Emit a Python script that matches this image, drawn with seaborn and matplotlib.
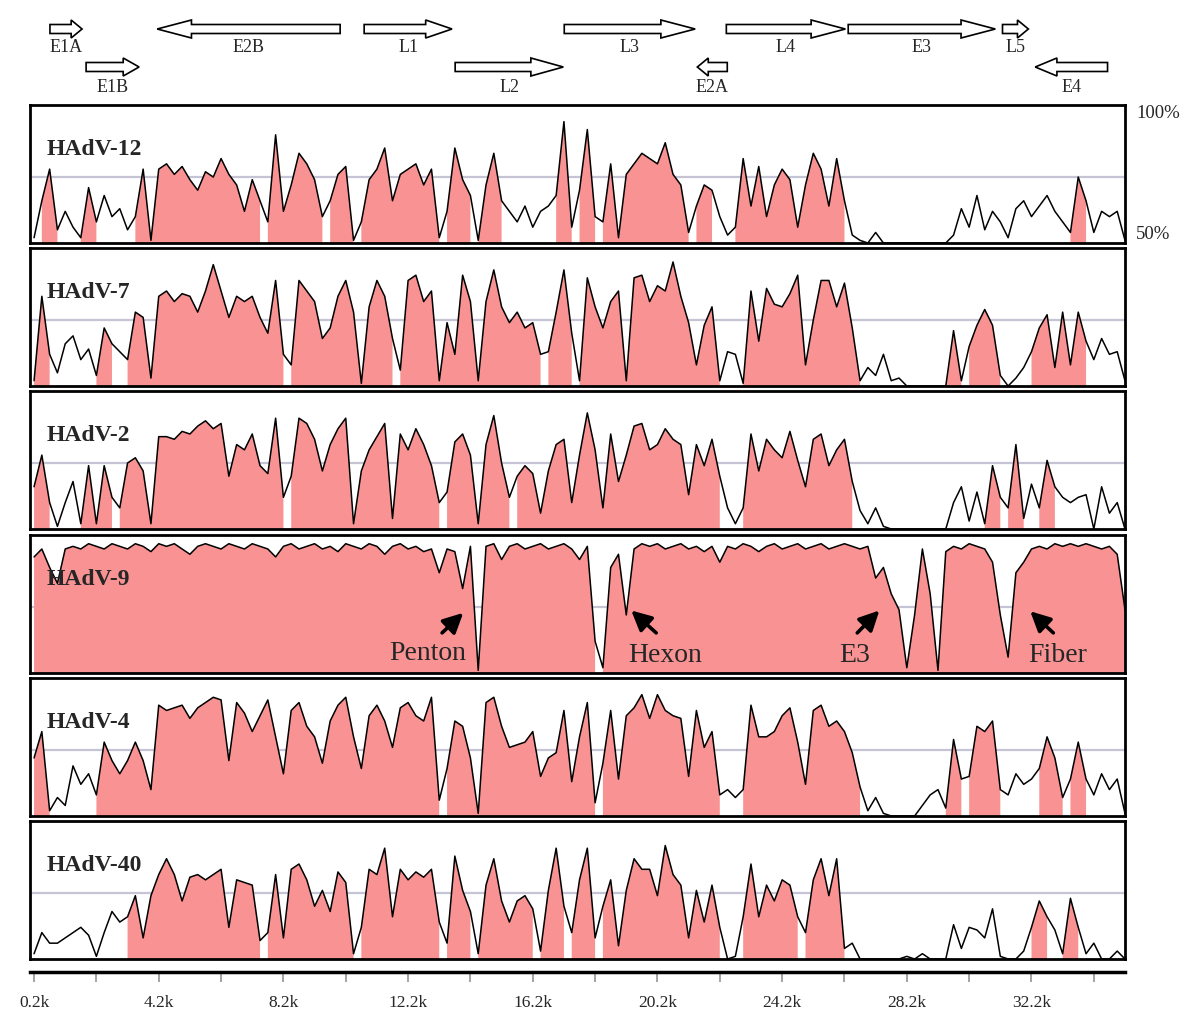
import numpy as np
import pandas as pd
import matplotlib.pyplot as plt
from matplotlib.patches import Polygon
import seaborn as sns

sns.set_theme(style="white")
plt.rcParams['font.family'] = ['Liberation Serif', 'DejaVu Serif']

# --- DATA (percent identity, 0.25 kb windows) ---
window_kb = np.round(np.arange(0.2, 35.21, 0.25), 2)

hadv12 = [52, 66, 78, 55, 62, 56, 52, 71, 58, 68,
          60, 63, 55, 60, 78, 51, 78, 80, 76, 79,
          74, 70, 77, 75, 82, 76, 72, 62, 74, 66,
          58, 91, 62, 72, 84, 80, 74, 60, 66, 76,
          79, 51, 58, 74, 78, 86, 66, 76, 78, 80,
          72, 78, 52, 62, 86, 74, 68, 51, 72, 84,
          66, 62, 58, 64, 56, 62, 64, 68, 96, 56,
          70, 93, 60, 58, 80, 52, 76, 80, 84, 82,
          80, 88, 76, 72, 54, 64, 72, 70, 60, 53,
          56, 82, 64, 79, 60, 72, 78, 74, 56, 72,
          84, 78, 64, 82, 66, 53, 51, 50, 54, 50,
          50, 50, 50, 50, 50, 50, 50, 50, 53, 63,
          56, 68, 55, 62, 58, 52, 63, 66, 60, 64,
          68, 62, 58, 54, 75, 66, 54, 62, 60, 62,
          51]

hadv7 = [52, 84, 62, 55, 66, 69, 60, 64, 54, 72,
         66, 63, 60, 78, 76, 53, 84, 86, 82, 85,
         84, 78, 86, 96, 86, 76, 84, 82, 84, 76,
         70, 90, 62, 58, 90, 86, 82, 68, 72, 84,
         90, 78, 51, 80, 90, 84, 68, 56, 90, 92,
         82, 86, 52, 74, 62, 92, 82, 52, 82, 94,
         80, 74, 78, 72, 74, 62, 63, 78, 94, 70,
         52, 91, 80, 72, 82, 86, 52, 91, 92, 82,
         88, 86, 97, 84, 74, 58, 73, 80, 52, 63,
         62, 51, 86, 67, 87, 81, 80, 85, 92, 58,
         75, 90, 90, 80, 89, 72, 52, 57, 54, 62,
         52, 53, 50, 50, 50, 50, 50, 50, 71, 52,
         65, 73, 79, 73, 54, 50, 53, 57, 63, 72,
         77, 57, 78, 58, 78, 67, 60, 68, 62, 63,
         52]

hadv2 = [66, 78, 60, 51, 60, 68, 52, 74, 52, 74,
         62, 58, 75, 77, 72, 52, 85, 85, 84, 87,
         86, 89, 91, 88, 90, 70, 82, 80, 86, 74,
         71, 92, 62, 70, 92, 90, 84, 72, 82, 88,
         92, 52, 72, 80, 85, 90, 54, 86, 80, 88,
         82, 74, 60, 64, 83, 86, 78, 52, 82, 93,
         75, 62, 70, 74, 71, 56, 72, 82, 84, 60,
         78, 94, 80, 58, 86, 68, 78, 89, 90, 80,
         82, 88, 84, 82, 63, 82, 74, 84, 70, 58,
         52, 58, 86, 72, 84, 80, 77, 87, 76, 66,
         84, 86, 74, 80, 84, 68, 57, 52, 58, 51,
         50, 50, 50, 50, 50, 50, 50, 50, 60, 66,
         53, 64, 52, 74, 62, 58, 82, 54, 67, 58,
         76, 66, 62, 60, 62, 63, 50, 66, 56, 60,
         50]

hadv9 = [94, 97, 90, 84, 97, 98, 97, 99, 98, 97,
         99, 98, 97, 99, 98, 96, 99, 98, 99, 97,
         95, 98, 99, 98, 97, 99, 98, 97, 99, 98,
         97, 94, 98, 99, 97, 98, 99, 97, 98, 96,
         99, 98, 97, 99, 98, 95, 98, 99, 97, 98,
         96, 97, 88, 97, 96, 82, 98, 51, 98, 99,
         93, 98, 99, 97, 98, 99, 97, 98, 99, 97,
         93, 98, 62, 52, 90, 95, 72, 97, 99, 98,
         99, 97, 98, 99, 97, 98, 96, 98, 92, 98,
         97, 99, 98, 96, 98, 99, 97, 98, 99, 97,
         98, 99, 97, 98, 99, 98, 97, 98, 86, 90,
         80, 74, 52, 72, 97, 80, 51, 96, 98, 97,
         99, 98, 97, 92, 72, 56, 88, 92, 97, 98,
         97, 99, 98, 99, 98, 99, 98, 97, 98, 95,
         74]

hadv4 = [72, 82, 52, 57, 54, 69, 62, 66, 58, 78,
         71, 66, 71, 78, 71, 60, 92, 90, 91, 92,
         87, 91, 93, 95, 94, 71, 93, 89, 82, 88,
         94, 80, 66, 90, 93, 84, 80, 70, 86, 92,
         95, 80, 68, 88, 92, 86, 76, 91, 93, 88,
         86, 95, 56, 68, 86, 84, 72, 51, 93, 95,
         84, 76, 77, 78, 82, 65, 72, 74, 90, 63,
         80, 93, 55, 70, 90, 64, 88, 91, 96, 87,
         96, 90, 88, 87, 65, 90, 76, 82, 58, 60,
         57, 60, 92, 80, 80, 82, 88, 91, 78, 62,
         90, 92, 84, 86, 82, 74, 61, 52, 57, 51,
         50, 50, 50, 50, 54, 58, 60, 53, 79, 64,
         65, 84, 82, 86, 60, 58, 66, 62, 64, 68,
         80, 72, 57, 64, 78, 64, 58, 66, 60, 64,
         51]

hadv40 = [52, 60, 56, 56, 58, 60, 62, 59, 51, 60,
          68, 64, 66, 74, 58, 74, 82, 88, 82, 72,
          81, 82, 80, 82, 84, 62, 80, 79, 78, 57,
          60, 82, 58, 84, 86, 80, 70, 76, 68, 83,
          79, 52, 62, 84, 82, 92, 66, 84, 80, 83,
          81, 84, 64, 56, 89, 76, 68, 52, 78, 88,
          72, 64, 72, 74, 69, 53, 76, 92, 70, 60,
          80, 92, 58, 70, 80, 55, 76, 88, 84, 84,
          74, 93, 82, 78, 58, 76, 64, 78, 62, 50,
          51, 66, 86, 66, 78, 72, 80, 78, 66, 60,
          80, 88, 74, 88, 54, 56, 50, 50, 50, 50,
          50, 50, 51, 50, 52, 50, 50, 50, 63, 54,
          62, 61, 58, 69, 51, 50, 50, 53, 62, 72,
          66, 61, 52, 73, 62, 52, 56, 50, 50, 53,
          50]

track_names = ['HAdV-12', 'HAdV-7', 'HAdV-2', 'HAdV-9', 'HAdV-4', 'HAdV-40']
track_values = [hadv12, hadv7, hadv2, hadv9, hadv4, hadv40]

gene_names = ['E1A', 'E1B', 'E2B', 'L1', 'L2', 'L3', 'E2A', 'L4', 'E3', 'L5', 'E4']
gene_start = [0.71, 1.87, 4.15, 10.79, 13.71, 17.21, 21.48, 22.41, 26.32, 31.27, 32.32]
gene_end = [1.74, 3.57, 10.02, 13.61, 17.18, 21.41, 22.44, 26.23, 31.04, 32.10, 34.64]
gene_strand = ['+', '+', '-', '+', '+', '+', '-', '+', '+', '+', '-']
gene_row = [0, 1, 0, 0, 1, 0, 1, 0, 0, 0, 1]

# callouts on the HAdV-9 track: arrow head, arrow tail, label centre
annot_labels = ['Penton', 'Hexon', 'E3', 'Fiber']
annot_head_kb = [13.97, 19.36, 27.32, 32.16]
annot_head_pct = [72.8, 73.7, 73.7, 73.4]
annot_tail_kb = [13.29, 20.16, 26.61, 32.90]
annot_tail_pct = [65.2, 65.2, 65.2, 65.2]
annot_text_kb = [12.84, 20.45, 26.52, 33.03]
annot_text_pct = [57.5, 56.8, 56.8, 56.8]

df = pd.DataFrame({'kb': window_kb})
for name, vals in zip(track_names, track_values):
    assert len(vals) == len(window_kb), name
    df[name] = vals
long_df = df.melt(id_vars='kb', var_name='virus', value_name='identity')

# --- LAYOUT ---
W, H = 1200, 1026
XLIM = (0.07, 35.2)
YLIM = (50, 102.3)
PINK = '#f99393'
MIDLINE = '#c4c4d4'
THRESH = 71


def px_rect(x0, y0, w, h):
    return [x0 / W, 1 - (y0 + h) / H, w / W, h / H]


def fill_conserved(ax, x, v):
    # a window segment is shaded when either end reaches the threshold
    hi = v >= THRESH
    seg = hi[:-1] | hi[1:]
    xs = np.repeat(x, 2)[1:-1]
    ys = np.repeat(v, 2)[1:-1]
    ws = np.repeat(seg, 2)
    ax.fill_between(xs, YLIM[0], ys, where=ws, color=PINK, lw=0, zorder=2)


fig = plt.figure(figsize=(12, 10.26), dpi=100)

panel_tops = [105, 248, 391, 535, 678, 821]
axes = []
for name, top in zip(track_names, panel_tops):
    ax = fig.add_axes(px_rect(30, top, 1095, 138))
    sub = long_df[long_df['virus'] == name]
    v = sub['identity'].to_numpy(float)
    ax.axhline(75, color=MIDLINE, lw=1.6, zorder=1)
    fill_conserved(ax, sub['kb'].to_numpy(), v)
    sns.lineplot(data=sub, x='kb', y='identity', ax=ax, color='black', lw=1.1, zorder=3)
    ax.set_xlim(XLIM)
    ax.set_ylim(YLIM)
    ax.set_xticks([])
    ax.set_yticks([])
    ax.set_xlabel('')
    ax.set_ylabel('')
    for s in ax.spines.values():
        s.set_visible(True)
        s.set_color('black')
        s.set_linewidth(2)
    ax.text(0.0155, 0.68, name, transform=ax.transAxes, fontsize=17,
            fontweight='bold', ha='left', va='center', zorder=5)
    axes.append(ax)

axes[0].text(1.01, 0.935, '100%', transform=axes[0].transAxes, fontsize=13.5,
             ha='left', va='center')
axes[0].text(1.01, 0.065, '50%', transform=axes[0].transAxes, fontsize=13.5,
             ha='left', va='center')

# annotations on HAdV-9
ax9 = axes[3]
for lab, hk, hp, tk, tp, xk, xp in zip(annot_labels, annot_head_kb, annot_head_pct,
                                       annot_tail_kb, annot_tail_pct,
                                       annot_text_kb, annot_text_pct):
    ax9.annotate('', xy=(hk, hp), xytext=(tk, tp), zorder=6,
                 arrowprops=dict(arrowstyle='-|>,head_length=0.8,head_width=0.4',
                                 color='black', lw=2.6, shrinkA=0, shrinkB=0,
                                 mutation_scale=15))
    ax9.text(xk, xp, lab, fontsize=20, ha='center', va='center', zorder=6)

# gene map
ax_g = fig.add_axes(px_rect(30, 0, 1095, 100))
ax_g.set_xlim(XLIM)
ax_g.set_ylim(100, 0)
ax_g.axis('off')
row_y = [29, 67]
label_y = [47, 87]
body, head_h = 4.5, 9
for name, s, e, strand, row in zip(gene_names, gene_start, gene_end, gene_strand, gene_row):
    yc = row_y[row]
    hl = min(max(0.3 * (e - s), 0.35), 1.1)
    if strand == '+':
        pts = [(s, yc - body), (e - hl, yc - body), (e - hl, yc - head_h), (e, yc),
               (e - hl, yc + head_h), (e - hl, yc + body), (s, yc + body)]
    else:
        pts = [(e, yc - body), (s + hl, yc - body), (s + hl, yc - head_h), (s, yc),
               (s + hl, yc + head_h), (s + hl, yc + body), (e, yc + body)]
    ax_g.add_patch(Polygon(pts, closed=True, facecolor='white', edgecolor='black', lw=1.2))
    ax_g.text((s + e) / 2, label_y[row], name, fontsize=13, ha='center', va='center')

# coordinate scale
ax_s = fig.add_axes(px_rect(30, 971, 1095, 1))
ax_s.set_xlim(XLIM)
ax_s.set_yticks([])
for side in ['top', 'left', 'right']:
    ax_s.spines[side].set_visible(False)
ax_s.spines['bottom'].set_linewidth(2.5)
ax_s.spines['bottom'].set_color('black')
major = np.arange(0.2, 34.3, 4)
minor = np.arange(2.2, 34.3, 4)
ax_s.set_xticks(major)
ax_s.set_xticklabels([f"{t:.1f}k" for t in major])
ax_s.set_xticks(minor, minor=True)
ax_s.tick_params(axis='x', which='both', bottom=True, direction='out', length=7.5,
                 width=1.1, color='#8a8a8a', pad=9, labelsize=12.5)

fig.savefig('out.png', dpi=100)
